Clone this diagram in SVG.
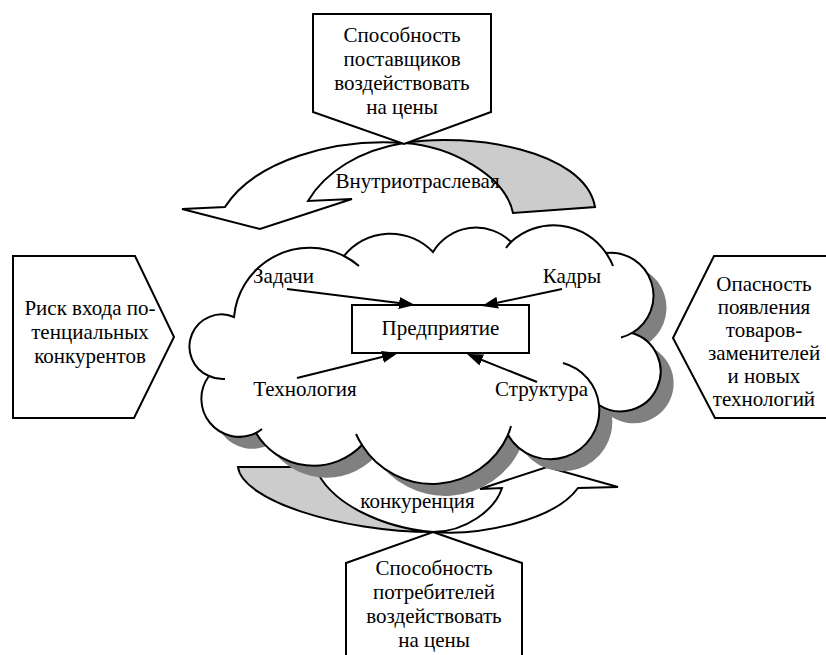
<svg xmlns="http://www.w3.org/2000/svg" width="826" height="655" viewBox="0 0 826 655">
<defs>
<style>
text{font-family:"Liberation Serif","Times New Roman",serif;font-size:21px;fill:#000}
.m{text-anchor:middle}
.ln{fill:#fff;stroke:#000;stroke-width:2;stroke-linejoin:miter}
.gr{fill:#ccc;stroke:#000;stroke-width:2;stroke-linejoin:miter}
.st{fill:none;stroke:#000;stroke-width:2}
.ar{fill:none;stroke:#000;stroke-width:2;marker-end:url(#ah)}
</style>
<marker id="ah" markerUnits="userSpaceOnUse" markerWidth="16" markerHeight="12" viewBox="0 0 16 12" refX="12" refY="6" orient="auto"><path d="M0,0 L16,6 L0,12 Z" fill="#000"/></marker>
<path id="cloudShape" d="M234,317 A76,76 0 0 1 344,256 A59,59 0 0 1 433,252 A50,50 0 0 1 511,242 A63,63 0 0 1 606,253 A43,43 0 0 1 632,333 A40,40 0 1 1 599,405 A49,49 0 0 1 508,435 A83,83 0 0 1 362,445 A67,67 0 0 1 256,433 A38,38 0 0 1 209,376 A32,32 0 0 1 234,317 Z"/>
</defs>
<rect x="0" y="0" width="826" height="655" fill="#fff"/>

<g id="bottom-arrow">
<path class="gr" d="M238,467 C242,500 340,532 433,532 C385,528 330,505 315,467 Z"/>
<path class="ln" d="M433,532 C481,536 555,520 578,488 L618,487 L547,467 L480,489 L502,488 C495,510 465,532 433,532 Z"/>
</g>

<g id="top-arrow">
<path class="gr" d="M404,143 C470,132 585,150 595,207 L513,213 C505,175 450,146 404,143 Z"/>
<path class="ln" d="M308,201 C325,172 360,150 404,143 C335,138 255,160 225,207 L182,209 L260,229 L352,199 Z"/>
</g>

<g id="supplier-box">
<polygon class="ln" points="313,14 491,14 491,112 404,144 313,112"/>
<text class="m" x="402" y="42">Способность</text>
<text class="m" x="402" y="66">поставщиков</text>
<text class="m" x="402" y="90">воздействовать</text>
<text class="m" x="402" y="114">на цены</text>
</g>

<g id="cloud">
<use href="#cloudShape" transform="translate(13,12)" fill="#808080" stroke="none"/>
<use href="#cloudShape" fill="#fff" stroke="#000" stroke-width="2"/>
<path class="st" d="M344,256 A76,76 0 0 1 359,266"/>
<path class="st" d="M506,248 A63,63 0 0 1 511,242"/>
<path class="st" d="M606,253 A63,63 0 0 1 613,266"/>
<path class="st" d="M632,333 A43,43 0 0 1 621,337.5"/>
<path class="st" d="M563,363 A49,49 0 0 1 599,405"/>
<path class="st" d="M511,426 A83,83 0 0 1 508,435"/>
<path class="st" d="M362,445 A83,83 0 0 1 356,434"/>
<path class="st" d="M262,429 A38,38 0 0 1 256,433"/>
<path class="st" d="M225,379 A32,32 0 0 1 209,376"/>
</g>

<g id="enterprise">
<rect x="352" y="305" width="177" height="48" fill="#fff" stroke="#000" stroke-width="2"/>
<text class="m" x="440.5" y="335">Предприятие</text>
</g>

<g id="connectors">
<line class="ar" x1="287" y1="289" x2="411" y2="304.5"/>
<line class="ar" x1="562" y1="289" x2="485.9" y2="305.2"/>
<line class="ar" x1="297" y1="378" x2="394.1" y2="354"/>
<line class="ar" x1="537" y1="382" x2="470.7" y2="355.5"/>
</g>

<g id="label-zadachi"><text class="m" x="283.5" y="283">Задачи</text></g>
<g id="label-kadry"><text class="m" x="572" y="283">Кадры</text></g>
<g id="label-tech"><text class="m" x="305" y="396">Технология</text></g>
<g id="label-struct"><text class="m" x="541.5" y="396">Структура</text></g>

<g id="arrow-labels">
<text class="m" x="417.5" y="188">Внутриотраслевая</text>
<text class="m" x="417.5" y="508">конкуренция</text>
</g>

<g id="buyer-box">
<polygon class="ln" points="433,532 522,563 522,662 346,662 346,563"/>
<text class="m" x="434" y="575">Способность</text>
<text class="m" x="434" y="599">потребителей</text>
<text class="m" x="434" y="623">воздействовать</text>
<text class="m" x="434" y="647">на цены</text>
</g>

<g id="entry-box">
<polygon class="ln" points="13,256 135,256 174,337 134,418 13,418"/>
<text class="m" x="90" y="315">Риск входа по-</text>
<text class="m" x="90" y="339">тенциальных</text>
<text class="m" x="90" y="363">конкурентов</text>
</g>

<g id="substitute-box">
<polygon class="ln" points="673,338 714,256 830,256 830,418 715,418"/>
<text class="m" x="764" y="291">Опасность</text>
<text class="m" x="764" y="314">появления</text>
<text class="m" x="764" y="337">товаров-</text>
<text class="m" x="764" y="360">заменителей</text>
<text class="m" x="764" y="383">и новых</text>
<text class="m" x="764" y="406">технологий</text>
</g>
</svg>
